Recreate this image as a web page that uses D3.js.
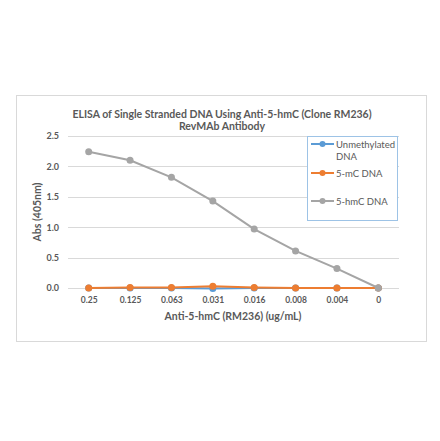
<!DOCTYPE html>
<html>
<head>
<meta charset="utf-8">
<script src="https://cdn.jsdelivr.net/npm/d3@7"></script>
<style>
  body { margin: 0; background: #fff; }
  text { font-family: Lato, "Open Sans", sans-serif; fill: #595959; }
</style>
</head>
<body>
<svg id="chart" width="440" height="441"></svg>
<script>
const categories = ['0.25', '0.125', '0.063', '0.031', '0.016', '0.008', '0.004', '0'];
const unmethylated = [0.00, 0.00, 0.00, -0.01, 0.00, 0.00, 0.00, 0.00];
const mC = [0.00, 0.01, 0.01, 0.03, 0.01, 0.00, 0.00, 0.00];
const hmC = [2.24, 2.10, 1.82, 1.43, 0.97, 0.61, 0.32, 0.00];
const yTicks = [0, 0.5, 1.0, 1.5, 2.0, 2.5];

const series = [
  {name: ['Unmethylated', 'DNA'], values: unmethylated, color: '#5B9BD5'},
  {name: ['5-mC DNA'], values: mC, color: '#ED7D31'},
  {name: ['5-hmC DNA'], values: hmC, color: '#A5A5A5'}
];

const svg = d3.select('#chart');

// outer chart frame
svg.append('rect')
  .attr('x', 16.5).attr('y', 95.5)
  .attr('width', 410).attr('height', 246)
  .attr('fill', '#fff').attr('stroke', '#D9D9D9');

const plot = {left: 68, right: 399, top: 136, bottom: 288};

const x = d3.scalePoint()
  .domain(categories)
  .range([plot.left, plot.right])
  .padding(0.5);

const y = d3.scaleLinear()
  .domain([0, 2.5])
  .range([plot.bottom, plot.top]);

// gridlines
svg.append('g')
  .selectAll('line')
  .data(yTicks)
  .join('line')
  .attr('x1', plot.left).attr('x2', plot.right)
  .attr('y1', d => Math.round(y(d)) + 0.5)
  .attr('y2', d => Math.round(y(d)) + 0.5)
  .attr('stroke', '#D9D9D9');

// y axis labels
const yAxis = svg.append('g')
  .attr('transform', `translate(${plot.left - 6},0)`)
  .call(d3.axisLeft(y).tickValues(yTicks).tickFormat(d3.format('.1f')).tickSize(0));
yAxis.select('.domain').remove();
yAxis.selectAll('text')
  .attr('font-size', 9).attr('font-weight', 'bold')
  .style('font-family', 'Lato, sans-serif').attr('fill', '#595959');

// x axis labels
const xAxis = svg.append('g')
  .attr('transform', `translate(0,${plot.bottom + 6})`)
  .call(d3.axisBottom(x).tickSize(0));
xAxis.select('.domain').remove();
xAxis.selectAll('text')
  .attr('font-size', 8.5).attr('font-weight', 'bold')
  .style('font-family', 'Lato, sans-serif').attr('fill', '#595959');

// lines and markers
const line = d3.line()
  .x((d, i) => x(categories[i]))
  .y(d => y(d));

series.forEach(s => {
  svg.append('path')
    .datum(s.values)
    .attr('d', line)
    .attr('fill', 'none')
    .attr('stroke', s.color)
    .attr('stroke-width', 2);
  svg.append('g')
    .selectAll('circle')
    .data(s.values)
    .join('circle')
    .attr('cx', (d, i) => x(categories[i]))
    .attr('cy', d => y(d))
    .attr('r', 3.5)
    .attr('fill', s.color);
});

// titles
const title = svg.append('text')
  .attr('text-anchor', 'middle')
  .attr('font-size', 10.5).attr('font-weight', 'bold');
title.append('tspan').attr('x', 222).attr('y', 118)
  .text('ELISA of Single Stranded DNA Using Anti-5-hmC (Clone RM236)');
title.append('tspan').attr('x', 222).attr('y', 130)
  .text('RevMAb Antibody');

svg.append('text')
  .attr('transform', 'translate(41,212) rotate(-90)')
  .attr('text-anchor', 'middle')
  .attr('font-size', 10.5).attr('font-weight', 'bold')
  .text('Abs (405nm)');

svg.append('text')
  .attr('x', 233).attr('y', 320)
  .attr('text-anchor', 'middle')
  .attr('font-size', 10.5).attr('font-weight', 'bold')
  .text('Anti-5-hmC (RM236) (ug/mL)');

// legend
const legend = svg.append('g');
legend.append('rect')
  .attr('x', 307.5).attr('y', 136.5)
  .attr('width', 90).attr('height', 84)
  .attr('fill', '#fff')
  .attr('stroke', '#9DC3E6');

const legendY = [144, 173, 201];
series.forEach((s, i) => {
  const g = legend.append('g').attr('transform', `translate(0,${legendY[i]})`);
  g.append('line')
    .attr('x1', 311).attr('x2', 334)
    .attr('stroke', s.color).attr('stroke-width', 2);
  g.append('circle').attr('cx', 322.5).attr('r', 3).attr('fill', s.color);
  const t = g.append('text')
    .attr('font-size', 9.5);
  s.name.forEach((n, j) => {
    t.append('tspan').attr('x', 336).attr('dy', j === 0 ? 3.5 : 12).text(n);
  });
});
</script>
</body>
</html>
